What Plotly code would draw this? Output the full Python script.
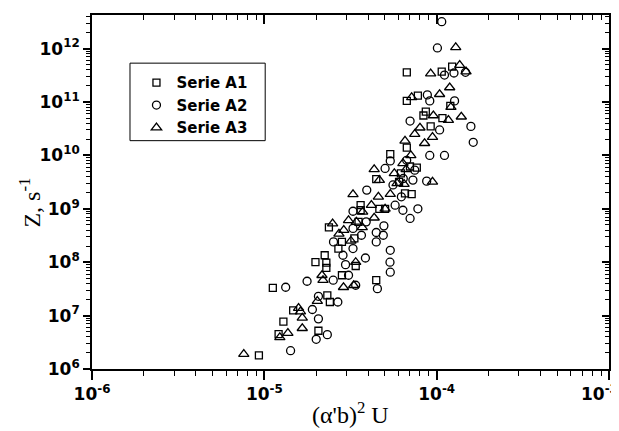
import plotly.graph_objects as go

# Serie A1 (squares)
a1_x = [9.3e-6, 1.12e-5, 1.21e-5, 1.29e-5, 1.47e-5, 1.98e-5, 2.24e-5, 2.29e-5, 2.29e-5, 2.06e-5,
        2.32e-5, 2.40e-5, 2.37e-5, 2.69e-5, 2.82e-5, 2.82e-5, 3.33e-5, 3.39e-5, 3.62e-5, 3.62e-5,
        3.52e-5, 4.46e-5, 4.65e-5, 5.02e-5, 4.46e-5, 5.38e-5, 6.05e-5, 6.55e-5, 7.16e-5, 6.71e-5,
        6.71e-5, 6.71e-5, 7.78e-5, 7.67e-5, 8.38e-5, 8.65e-5, 9.23e-5, 1.07e-4, 1.08e-4, 1.20e-4,
        1.23e-4, 6.2e-5, 7.0e-5]
a1_y = [1.8e6, 3.3e7, 4.5e6, 7.7e6, 1.25e7, 1.0e8, 1.35e8, 9.8e7, 7.8e7, 5.2e6,
        2.4e7, 1.8e7, 4.5e8, 1.8e8, 2.4e8, 5.7e7, 2.8e8, 8.5e7, 1.17e9, 9.4e8,
        5.7e8, 3.6e9, 1.0e9, 1.0e9, 4.6e7, 1.06e10, 3.2e9, 1.94e9, 1.88e9, 1.4e10,
        3.6e11, 1.05e11, 1.32e11, 5.9e9, 5.6e10, 6.6e10, 3.5e10, 3.7e11, 5.0e10, 8.5e10,
        4.6e11, 4.6e9, 6.2e9]

# Serie A2 (circles)
a2_x = [1.42e-5, 1.33e-5, 1.77e-5, 1.90e-5, 2.0e-5, 2.06e-5, 2.06e-5, 2.32e-5, 2.51e-5, 2.67e-5,
        2.52e-5, 2.86e-5, 2.96e-5, 3.08e-5, 3.27e-5, 3.27e-5, 3.27e-5, 3.39e-5, 3.66e-5, 3.86e-5,
        3.93e-5, 4.46e-5, 4.46e-5, 4.53e-5, 4.90e-5, 4.94e-5, 5.38e-5, 5.36e-5, 5.38e-5, 5.02e-5,
        5.38e-5, 5.58e-5, 5.74e-5, 6.24e-5, 6.37e-5, 7.01e-5, 7.01e-5, 7.28e-5, 7.46e-5, 7.78e-5,
        8.83e-5, 9.12e-5, 9.12e-5, 8.75e-5, 1.01e-4, 1.07e-4, 1.04e-4, 1.11e-4, 1.11e-4, 1.27e-4,
        1.47e-4, 1.58e-4, 1.63e-4, 1.26e-4, 6.4e-5, 6.7e-5, 3.9e-5]
a2_y = [2.2e6, 3.4e7, 4.4e7, 1.3e7, 3.6e6, 8.7e6, 2.3e7, 4.4e6, 4.6e7, 1.8e7,
        2.4e8, 1.35e8, 9.0e7, 5.7e7, 1.8e8, 9.0e8, 4.3e8, 3.7e7, 3.2e8, 1.2e8,
        2.24e9, 2.4e8, 3.6e8, 3.2e7, 3.2e8, 4.8e8, 1.67e8, 1.0e8, 6.5e7, 5.7e9,
        7.9e9, 2.8e9, 1.17e9, 1.68e9, 9.4e8, 6.6e8, 4.4e10, 3.45e9, 5.3e9, 1.0e9,
        1.36e11, 1.05e11, 1.0e10, 3.3e9, 1.03e12, 3.2e12, 3.0e10, 3.2e11, 1.0e10, 1.05e11,
        3.6e11, 3.5e10, 1.76e10, 3.5e11, 3.7e9, 8.1e9, 5.7e8]

# Serie A3 (triangles)
a3_x = [7.6e-6, 1.23e-5, 1.37e-5, 1.58e-5, 1.62e-5, 1.66e-5, 1.66e-5, 2.03e-5, 2.16e-5, 2.19e-5,
        2.49e-5, 2.71e-5, 2.89e-5, 2.88e-5, 3.08e-5, 3.18e-5, 3.27e-5, 3.30e-5, 3.39e-5, 3.42e-5,
        3.72e-5, 3.70e-5, 4.18e-5, 4.34e-5, 4.34e-5, 4.59e-5, 4.65e-5, 5.02e-5, 5.38e-5, 5.68e-5,
        5.89e-5, 6.37e-5, 6.47e-5, 6.65e-5, 6.55e-5, 7.08e-5, 7.16e-5, 7.46e-5, 8.0e-5, 8.51e-5,
        9.23e-5, 9.46e-5, 9.57e-5, 1.04e-4, 1.17e-4, 1.19e-4, 1.21e-4, 1.29e-4, 1.39e-4, 1.36e-4,
        1.48e-4, 9.46e-5]
a3_y = [1.9e6, 3.9e6, 4.7e6, 1.38e7, 1.19e7, 9.1e6, 5.8e6, 1.87e7, 5.7e7, 4.6e7,
        5.3e8, 3.4e8, 4.0e8, 3.4e7, 6.1e8, 2.5e8, 1.86e9, 3.7e7, 1.0e8, 5.7e8,
        8.8e8, 4.5e8, 1.17e9, 5.5e9, 6.8e8, 1.68e9, 3.45e9, 1.0e9, 1.88e9, 4.6e9,
        3.0e9, 7.1e9, 2.9e9, 5.5e9, 1.87e10, 1.0e10, 1.22e11, 2.5e10, 3.3e10, 1.69e10,
        3.4e11, 2.2e10, 5.6e10, 1.4e11, 4.6e10, 1.87e11, 8.0e10, 1.06e12, 5.3e10, 4.9e11,
        3.7e11, 3.2e9]

x_tickvals = [1e-6, 1e-5, 1e-4, 1e-3]
# the 10^-3 label sits at the right edge, it is drawn as an annotation so it is not clipped
x_ticktext = ["10<sup>-6</sup>", "10<sup>-5</sup>", "10<sup>-4</sup>", ""]
x_last_label = "10<sup>-3</sup>"
y_tickvals = [1e6, 1e7, 1e8, 1e9, 1e10, 1e11, 1e12]
y_ticktext = ["10<sup>6</sup>", "10<sup>7</sup>", "10<sup>8</sup>", "10<sup>9</sup>",
              "10<sup>10</sup>", "10<sup>11</sup>", "10<sup>12</sup>"]
x_minor = [k * 10.0 ** e for e in range(-6, -3) for k in range(2, 10)]
y_minor = [k * 10.0 ** e for e in range(6, 13) for k in range(2, 10)]

x_range = [-6, -3]
y_range = [6, 12.63]

series = [
    ("Serie A1", a1_x, a1_y, "square-open", 7),
    ("Serie A2", a2_x, a2_y, "circle-open", 8),
    ("Serie A3", a3_x, a3_y, "triangle-up-open", 9),
]

fig = go.Figure()
for name, xs, ys, symbol, size in series:
    fig.add_trace(
        go.Scatter(
            x=xs,
            y=ys,
            mode="markers",
            name=name,
            marker=dict(symbol=symbol, size=size, color="black", line=dict(width=1.3, color="black")),
        )
    )

# helper trace so the overlay axes get drawn (inward ticks on top/right)
fig.add_trace(go.Scatter(x=[], y=[], xaxis="x2", yaxis="y2", showlegend=False, hoverinfo="skip"))

tick_font = dict(family="DejaVu Sans", size=17, color="black", weight="bold")
title_font = dict(family="Liberation Serif, Times New Roman", size=24, color="black")
tick_style = dict(tickwidth=1.5, showgrid=False, zeroline=False, automargin=False)

# legend frame (legend itself drawn without border)
fig.add_shape(type="rect", xref="paper", yref="paper", x0=0.0735, x1=0.335, y0=0.645, y1=0.864,
              line=dict(color="black", width=1), fillcolor="white", layer="below")

# axis titles
fig.add_annotation(text="Z, s<sup>-1</sup>", xref="paper", yref="paper", x=-0.12, y=0.47,
                   textangle=-90, showarrow=False, font=title_font, xanchor="center", yanchor="middle")
fig.add_annotation(text="(\u03b1'b)<sup>2</sup> U", xref="paper", yref="paper", x=0.5, y=-0.125,
                   showarrow=False, font=title_font, xanchor="center", yanchor="middle")
fig.add_annotation(text=x_last_label, xref="paper", yref="paper", x=1.0, y=-0.03,
                   showarrow=False, font=tick_font, xanchor="center", xshift=-10, yanchor="top")

fig.update_layout(
    width=619,
    height=431,
    margin=dict(l=84, r=18, t=7, b=70),
    plot_bgcolor="white",
    paper_bgcolor="white",
    showlegend=True,
    legend=dict(
        x=0.086,
        y=0.855,
        xanchor="left",
        yanchor="top",
        bgcolor="rgba(0,0,0,0)",
        borderwidth=0,
        font=dict(family="DejaVu Sans", size=15, color="black", weight="bold"),
        itemsizing="trace",
        tracegroupgap=0,
    ),
    xaxis=dict(
        type="log",
        range=x_range,
        tickmode="array",
        tickvals=x_tickvals,
        ticktext=x_ticktext,
        tickfont=tick_font,
        ticks="outside",
        ticklen=9,
        tickcolor="black",
        minor=dict(tickmode="array", tickvals=x_minor, ticks="outside", ticklen=5, tickwidth=1.2, tickcolor="black"),
        showline=True,
        linecolor="black",
        linewidth=1.8,
        mirror=True,
        **tick_style,
    ),
    yaxis=dict(
        type="log",
        range=y_range,
        tickmode="array",
        tickvals=y_tickvals,
        ticktext=y_ticktext,
        tickfont=tick_font,
        ticks="outside",
        ticklen=7,
        tickcolor="black",
        minor=dict(tickmode="array", tickvals=y_minor, ticks="outside", ticklen=4, tickwidth=1, tickcolor="black"),
        showline=True,
        linecolor="black",
        linewidth=1.8,
        mirror=True,
        **tick_style,
    ),
    xaxis2=dict(
        type="log",
        range=x_range,
        overlaying="x",
        side="top",
        anchor="y",
        tickmode="array",
        tickvals=x_tickvals,
        showticklabels=False,
        ticks="inside",
        ticklen=9,
        tickcolor="black",
        minor=dict(tickmode="array", tickvals=x_minor, ticks="inside", ticklen=5, tickwidth=1.2, tickcolor="black"),
        showline=False,
        **tick_style,
    ),
    yaxis2=dict(
        type="log",
        range=y_range,
        overlaying="y",
        side="right",
        anchor="x",
        tickmode="array",
        tickvals=y_tickvals,
        showticklabels=False,
        ticks="inside",
        ticklen=7,
        tickcolor="black",
        minor=dict(tickmode="array", tickvals=y_minor, ticks="inside", ticklen=4, tickwidth=1, tickcolor="black"),
        showline=False,
        **tick_style,
    ),
)

fig.write_html("out.html")
